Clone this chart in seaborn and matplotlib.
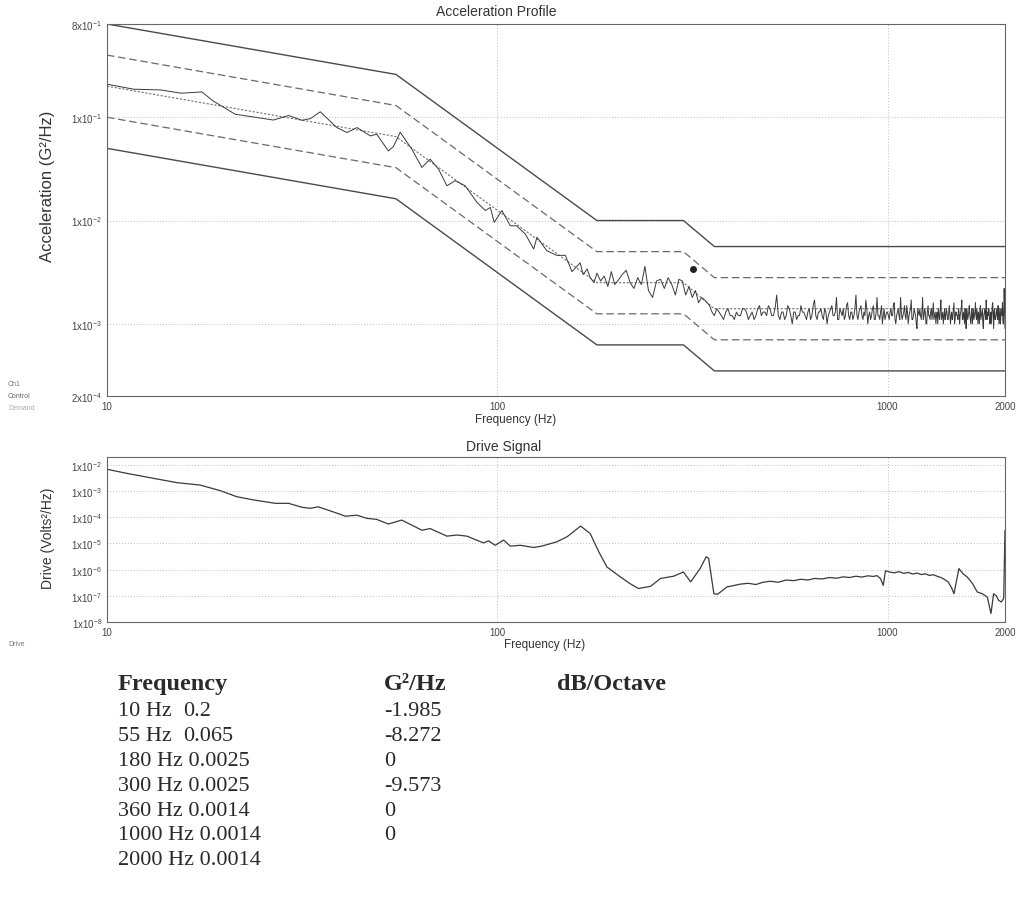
import numpy as np
import pandas as pd
import matplotlib
matplotlib.use("Agg")
import matplotlib.pyplot as plt
import seaborn as sns

# ---------------- data ----------------
# demand profile breakpoints
bp_freq = [10, 55, 180, 300, 360, 1000, 2000]
bp_psd = [0.2, 0.065, 0.0025, 0.0025, 0.0014, 0.0014, 0.0014]
abort_factor = 4.0   # +/- 6 dB
alarm_factor = 2.0   # +/- 3 dB

# control trace, low/mid band (Hz, G^2/Hz)
ctrl_freq_lo = [10, 11.7, 13.7, 15.5, 17.5, 18.7, 21.3, 23.3, 26.7, 29.2, 31.6, 33.2,
                35.2, 38.8, 41.2, 43.7, 47.3, 49.1, 52.6, 54.2, 56.4, 60.4, 64.1, 67.3,
                70.7, 74.3, 78.0, 82.8, 88.7, 93.2, 96.0, 98.2, 102.8, 108, 112, 118,
                124, 126.4, 134, 142, 149.4, 155.4,
                160, 163, 166, 170, 173, 177, 180, 184, 188, 192, 196, 200, 205, 209,
                214, 219, 224, 229, 234, 239, 244, 250, 256, 262, 268, 274, 280, 286,
                292, 298, 304, 310, 316, 322, 328, 334]
ctrl_psd_lo = [0.209, 0.187, 0.184, 0.171, 0.176, 0.144, 0.107, 0.1016, 0.094, 0.104,
               0.0935, 0.097, 0.113, 0.0795, 0.0711, 0.0795, 0.066, 0.0686, 0.0472,
               0.0521, 0.0716, 0.0491, 0.0327, 0.0393, 0.0315, 0.0217, 0.0243, 0.0217,
               0.015, 0.0125, 0.0134, 0.0096, 0.0125, 0.0089, 0.0089, 0.0074, 0.0053,
               0.0069, 0.0051, 0.0046, 0.0046, 0.0032,
               0.0036, 0.0039, 0.0030, 0.0034, 0.0028, 0.0025, 0.0031, 0.0026, 0.0029,
               0.0023, 0.0032, 0.0024, 0.0027, 0.0030, 0.0033, 0.0025, 0.0022, 0.0028,
               0.0024, 0.0036, 0.0021, 0.0018, 0.0026, 0.0027, 0.0022, 0.0028, 0.0024,
               0.0019, 0.0027, 0.0026, 0.0019, 0.0023, 0.0018, 0.0021, 0.0016, 0.0018]

# control trace, high band A: 340 .. 2000 Hz every 10 Hz, values in 1e-4 G^2/Hz
ctrl_freq_hi_a = list(range(340, 2001, 10))
ctrl_psd_hi_a_e4 = [17, 15, 12, 13, 11, 14, 12,
                    13, 12, 14, 11, 13, 12, 15, 13, 12, 14,
                    12, 19, 11, 13, 12, 14, 10, 13, 12, 15,
                    13, 11, 14, 12, 17, 11, 13, 12, 14, 10,
                    13, 15, 12, 18, 11, 13, 14, 12, 16, 11,
                    13, 12, 19, 11, 14, 12, 13, 17, 10, 13,
                    12, 15, 11, 18, 12, 13, 10, 14, 12, 13,
                    11, 14, 12, 16, 10, 13, 12, 18, 11, 13,
                    12, 15, 10, 13, 17, 11, 14, 12, 9, 13,
                    14, 11, 18, 12, 13, 10, 15, 12, 13, 11,
                    16, 12, 10, 13, 14, 11, 17, 12, 10, 14,
                    12, 13, 11, 15, 10, 13, 12, 16, 11, 13,
                    12, 14, 10, 13, 17, 11, 12, 14, 9, 13,
                    12, 15, 11, 13, 10, 14, 12, 16, 11, 12,
                    13, 10, 15, 12, 14, 9, 13, 12, 17, 11,
                    12, 14, 10, 13, 12, 16, 9, 14, 11, 13,
                    12, 15, 10, 14, 11, 13, 16, 10, 22, 9]
# control trace, high band B: 345 .. 1995 Hz every 10 Hz, values in 1e-4 G^2/Hz
ctrl_freq_hi_b = list(range(345, 2000, 10))
ctrl_psd_hi_b_e4 = [16, 13, 14, 12, 13, 12, 11,
                    12, 14, 13, 12, 11, 14, 12, 13, 15, 12,
                    14, 12, 13, 11, 15, 12, 13, 11, 12, 13,
                    12, 13, 11, 15, 12, 13, 14, 11, 13, 12,
                    14, 12, 13, 11, 14, 12, 11, 15, 12, 13,
                    11, 14, 12, 13, 15, 11, 12, 14, 12, 11,
                    14, 11, 13, 12, 11, 15, 12, 11, 13, 12,
                    13, 12, 15, 11, 12, 14, 11, 13, 12, 15,
                    11, 13, 12, 14, 11, 12, 13, 10, 14, 12,
                    12, 13, 11, 14, 10, 13, 12, 11, 14, 13,
                    11, 13, 12, 10, 12, 14, 11, 13, 12, 11,
                    14, 11, 13, 12, 12, 11, 14, 10, 13, 12,
                    11, 13, 12, 14, 11, 13, 10, 12, 14, 11,
                    13, 12, 10, 14, 12, 11, 13, 12, 14, 10,
                    12, 14, 11, 13, 10, 12, 14, 11, 12, 13,
                    14, 11, 12, 10, 15, 12, 13, 11, 12, 14,
                    11, 13, 12, 10, 14, 12, 11, 13, 15]

# drive signal (Hz, Volts^2/Hz)
drive_freq = [10, 11.2, 13.1, 15.1, 17.3, 19.5, 21.5, 23.7, 27.0, 29.2, 31.6, 33.2, 34.8,
              38.0, 40.8, 43.7, 46.3, 49.1, 52.6, 56.9, 60.4, 64.1, 67.3, 74.3, 78.8,
              83.6, 92.2, 95.0, 98.8, 103.8, 108, 114.6, 124, 130, 142, 151, 163.5, 173,
              182, 191, 207, 219, 230, 247, 262, 283, 300, 313, 331, 343, 348, 359, 367,
              388, 400, 420, 440, 460, 480, 500, 525, 550, 575, 600, 625, 650, 680, 710,
              740, 770, 800, 830, 860, 890, 920, 940, 960, 975, 988, 1010, 1040, 1070,
              1100, 1130, 1160, 1190, 1220, 1250, 1280, 1310, 1340, 1370, 1400, 1430,
              1460, 1480, 1524, 1560, 1601, 1650, 1698, 1750, 1802, 1841, 1870, 1900,
              1926, 1957, 1985, 2000]
drive_psd = [6.8e-3, 4.8e-3, 3.1e-3, 2.1e-3, 1.7e-3, 1.04e-3, 6.1e-4, 4.6e-4, 3.4e-4,
             3.4e-4, 2.4e-4, 2.2e-4, 2.5e-4, 1.6e-4, 1.1e-4, 1.2e-4, 9.1e-5, 8.3e-5,
             5.5e-5, 7.8e-5, 5.0e-5, 3.2e-5, 3.7e-5, 1.9e-5, 2.1e-5, 1.9e-5, 1.05e-5,
             1.26e-5, 8.5e-6, 1.35e-5, 7.9e-6, 8.5e-6, 7.0e-6, 7.9e-6, 1.15e-5, 1.8e-5,
             4.6e-5, 2.4e-5, 4.8e-6, 1.26e-6, 5.2e-7, 2.9e-7, 1.9e-7, 2.3e-7, 4.6e-7,
             5.6e-7, 8.1e-7, 3.4e-7, 1.1e-6, 3.1e-6, 2.7e-6, 1.2e-7, 1.15e-7, 2.2e-7,
             2.4e-7, 2.8e-7, 3.0e-7, 2.7e-7, 3.3e-7, 3.6e-7, 3.3e-7, 4.0e-7, 3.8e-7,
             4.3e-7, 4.0e-7, 4.6e-7, 4.4e-7, 5.0e-7, 4.7e-7, 5.3e-7, 5.0e-7, 5.6e-7,
             5.2e-7, 5.8e-7, 5.5e-7, 5.9e-7, 4.5e-7, 2.5e-7, 9.0e-7, 8.2e-7, 7.5e-7,
             8.4e-7, 7.2e-7, 7.8e-7, 6.8e-7, 7.4e-7, 6.5e-7, 6.9e-7, 6.0e-7, 6.4e-7,
             5.6e-7, 5.0e-7, 4.2e-7, 3.4e-7, 2.0e-7, 1.2e-7, 1.1e-6, 7.0e-7, 5.2e-7,
             3.0e-7, 1.4e-7, 1.2e-7, 8.9e-8, 2.1e-8, 1.2e-7, 1.0e-7, 6.7e-8, 5.8e-8,
             8.0e-8, 3.2e-5]

marker_freq = [318]
marker_psd = [0.0034]

acc_yticks = [2e-4, 1e-3, 1e-2, 1e-1, 0.8]
acc_yticklabels = [r"2x10$^{-4}$", r"1x10$^{-3}$", r"1x10$^{-2}$", r"1x10$^{-1}$", r"8x10$^{-1}$"]
drv_yticks = [1e-8, 1e-7, 1e-6, 1e-5, 1e-4, 1e-3, 1e-2]
drv_yticklabels = [r"1x10$^{-8}$", r"1x10$^{-7}$", r"1x10$^{-6}$", r"1x10$^{-5}$",
                   r"1x10$^{-4}$", r"1x10$^{-3}$", r"1x10$^{-2}$"]
xticks = [10, 100, 1000, 2000]
xticklabels = ["10", "100", "1000", "2000"]

table_freq = ["10 Hz", "55 Hz", "180 Hz", "300 Hz", "360 Hz", "1000 Hz", "2000 Hz"]
table_g = ["0.2", "0.065", "0.0025", "0.0025", "0.0014", "0.0014", "0.0014"]
table_slope = ["-1.985", "-8.272", "0", "-9.573", "0", "0", ""]
table_headers = ["Frequency", "G\u00b2/Hz", "dB/Octave"]

# ---------------- style ----------------
sns.set_style("white")
plt.rcParams["font.family"] = ["Liberation Sans", "DejaVu Sans"]
plt.rcParams["mathtext.default"] = "regular"

W, H = 1019, 904
fig = plt.figure(figsize=(W / 100, H / 100), dpi=100)

def fx(px):
    return px / W

def fy(py):
    return 1 - py / H

ax1 = fig.add_axes([fx(107), fy(397), fx(1005 - 107), (397 - 25) / H])
ax2 = fig.add_axes([fx(107), fy(623), fx(1005 - 107), (623 - 458) / H])

line_col = "#4a4a4a"
tol_col = "#6a6a6a"
grid_col = "#bdbdbd"

# profile table
prof = pd.DataFrame({"f": bp_freq, "demand": bp_psd})
prof["abort_hi"] = prof["demand"] * abort_factor
prof["alarm_hi"] = prof["demand"] * alarm_factor
prof["alarm_lo"] = prof["demand"] / alarm_factor
prof["abort_lo"] = prof["demand"] / abort_factor

ctrl = pd.DataFrame({
    "f": ctrl_freq_lo + ctrl_freq_hi_a + ctrl_freq_hi_b,
    "v": ctrl_psd_lo + [v * 1e-4 for v in ctrl_psd_hi_a_e4]
         + [v * 1e-4 for v in ctrl_psd_hi_b_e4],
}).sort_values("f")
drv = pd.DataFrame({"f": drive_freq, "v": drive_psd})

for ax in (ax1, ax2):
    ax.set_xscale("log")
    ax.set_yscale("log")

# acceleration profile
for col, ls, lw, c in [("abort_hi", "-", 1.0, line_col), ("alarm_hi", (0, (6, 3)), 0.9, tol_col),
                       ("demand", (0, (2, 1.5)), 0.8, "#707070"), ("alarm_lo", (0, (6, 3)), 0.9, tol_col),
                       ("abort_lo", "-", 1.0, line_col)]:
    sns.lineplot(data=prof, x="f", y=col, ax=ax1, color=c, lw=lw, linestyle=ls,
                 estimator=None, sort=False)
sns.lineplot(data=ctrl, x="f", y="v", ax=ax1, color="#3a3a3a", lw=0.7,
             estimator=None, sort=False)
ax1.scatter(marker_freq, marker_psd, s=16, color="#222222", marker="o", zorder=5)

sns.lineplot(data=drv, x="f", y="v", ax=ax2, color="#3a3a3a", lw=0.9,
             estimator=None, sort=False)

ax1.set_xlim(10, 2000)
ax1.set_ylim(2e-4, 0.8)
ax2.set_xlim(10, 2000)
ax2.set_ylim(1e-8, 2e-2)

ax1.set_yticks(acc_yticks)
ax1.set_yticklabels(acc_yticklabels)
ax2.set_yticks(drv_yticks)
ax2.set_yticklabels(drv_yticklabels)

for ax in (ax1, ax2):
    ax.set_xticks(xticks)
    ax.set_xticklabels(xticklabels)
    ax.set_xlabel("")
    ax.set_ylabel("")
    ax.tick_params(axis="both", which="major", labelsize=7, colors="#444444",
                   length=3, width=0.6, direction="inout", pad=2)
    ax.tick_params(axis="both", which="minor", length=2, width=0.5,
                   direction="inout", colors="#666666")
    ax.tick_params(axis="y", which="minor", labelleft=False)
    ax.tick_params(axis="x", which="minor", labelbottom=False)
    for s in ax.spines.values():
        s.set_color("#666666")
        s.set_linewidth(0.8)
    for xv in (100, 1000):
        ax.axvline(xv, color=grid_col, lw=0.7, ls=(0, (1, 2)), zorder=0)

for yv in (1e-1, 1e-2, 1e-3):
    ax1.axhline(yv, color=grid_col, lw=0.7, ls=(0, (1, 2)), zorder=0)
for yv in (1e-2, 1e-3, 1e-4, 1e-5, 1e-6, 1e-7):
    ax2.axhline(yv, color=grid_col, lw=0.7, ls=(0, (1, 2)), zorder=0)

# titles and labels
fig.text(fx(496), fy(12), "Acceleration Profile", ha="center", va="center",
         fontsize=10, color="#333333")
fig.text(fx(504), fy(447), "Drive Signal", ha="center", va="center",
         fontsize=10, color="#333333")
fig.text(fx(516), fy(420), "Frequency (Hz)", ha="center", va="center",
         fontsize=8.5, color="#333333")
fig.text(fx(545), fy(645), "Frequency (Hz)", ha="center", va="center",
         fontsize=8.5, color="#333333")
fig.text(fx(48), fy(186), "Acceleration (G\u00b2/Hz)", ha="center", va="center",
         rotation=90, fontsize=12, color="#333333")
fig.text(fx(48), fy(538), "Drive (Volts\u00b2/Hz)", ha="center", va="center",
         rotation=90, fontsize=10, color="#333333")

fig.text(fx(8), fy(385), "Ch1", ha="left", va="center", fontsize=5, color="#777777")
fig.text(fx(8), fy(397), "Control", ha="left", va="center", fontsize=5, color="#666666")
fig.text(fx(8), fy(408), "Demand", ha="left", va="center", fontsize=5, color="#aaaaaa")
fig.text(fx(8), fy(645), "Drive", ha="left", va="center", fontsize=5, color="#777777")

# table below
serif = ["Liberation Serif", "DejaVu Serif"]
tcol = "#2a2a2a"
hdr_x = [118, 384, 557]
for hx, htxt in zip(hdr_x, table_headers):
    fig.text(fx(hx), fy(690), htxt, ha="left", va="baseline", fontsize=17.5,
             fontweight="bold", family=serif, color=tcol)
row_y0, row_dy = 716, 24.9
for i, (fr, g, sl) in enumerate(zip(table_freq, table_g, table_slope)):
    y = fy(row_y0 + i * row_dy)
    if len(fr) <= 5:
        fig.text(fx(118), y, fr, ha="left", va="baseline", fontsize=16, family=serif, color=tcol)
        fig.text(fx(183), y, g, ha="left", va="baseline", fontsize=16, family=serif, color=tcol)
    else:
        fig.text(fx(118), y, fr + " " + g, ha="left", va="baseline", fontsize=16,
                 family=serif, color=tcol)
    if sl:
        fig.text(fx(384), y, sl, ha="left", va="baseline", fontsize=16, family=serif, color=tcol)

fig.savefig("out.png", dpi=100, facecolor="white")
